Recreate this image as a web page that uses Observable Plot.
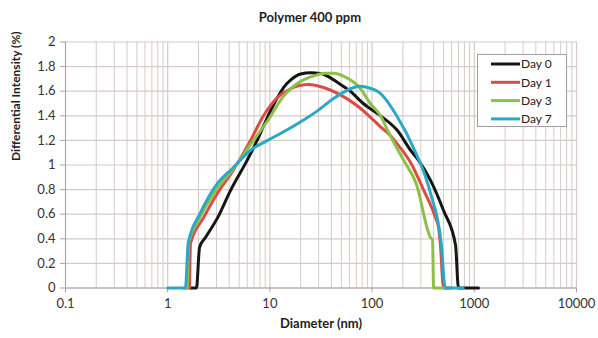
<!DOCTYPE html>
<html>
<head>
<meta charset="utf-8">
<script src="https://cdn.jsdelivr.net/npm/d3@7"></script>
<script src="https://cdn.jsdelivr.net/npm/@observablehq/plot@0.6"></script>
<style>
  html, body { margin: 0; padding: 0; background: #fff; }
  #wrap { position: relative; width: 598px; height: 338px; font-family: Lato, "Open Sans", sans-serif; }
  #title { height: 30px; text-align: center; font-weight: bold; font-size: 13px; line-height: 35px; color: #222; padding-left: 22px; }
  #legend { position: absolute; left: 477px; top: 54px; width: 88px; height: 71px; border: 1px solid #a0a0a0; background: #fff; }
  #legend svg { display: block; }
</style>
</head>
<body>
<div id="wrap">
  <div id="title">Polymer 400 ppm</div>
  <div id="chart"></div>
  <div id="legend"></div>
</div>
<script>
// ---- data ----
const seriesNames = ["Day 0", "Day 1", "Day 3", "Day 7"];
const seriesColors = ["#161616", "#dc4c47", "#8dc049", "#2ba8c5"];

const day0X = [1.67, 1.91, 2.05, 2.34, 3.07, 4.1, 6.0, 7.5, 8.7, 10, 11.9, 13.6, 15.9, 20, 25, 31, 37, 46, 61, 82, 121, 177, 238, 278, 373, 500, 655, 700, 1100];
const day0Y = [0, 0, 0.33, 0.41, 0.57, 0.79, 1.04, 1.2, 1.32, 1.43, 1.55, 1.63, 1.69, 1.74, 1.75, 1.745, 1.72, 1.67, 1.6, 1.5, 1.4, 1.28, 1.12, 1.05, 0.875, 0.63, 0.35, 0, 0];

const day1X = [1.49, 1.63, 1.67, 2.24, 3.07, 4.4, 6.46, 8.66, 11.9, 15.9, 24, 33.5, 49, 72, 96, 121, 151, 177, 238, 318, 418, 447, 465, 500, 600];
const day1Y = [0, 0, 0.36, 0.57, 0.77, 0.96, 1.2, 1.4, 1.55, 1.62, 1.655, 1.63, 1.57, 1.48, 1.39, 1.31, 1.24, 1.17, 1.02, 0.8, 0.57, 0.49, 0.36, 0, 0];

const day3X = [1.42, 1.55, 1.6, 2.0, 3.0, 4.4, 6.5, 9.5, 13.6, 20, 27, 35, 42, 53, 77, 96, 121, 142, 203, 270, 373, 390, 400, 550];
const day3Y = [0, 0, 0.36, 0.55, 0.8, 0.97, 1.17, 1.36, 1.56, 1.68, 1.725, 1.745, 1.745, 1.72, 1.62, 1.5, 1.4, 1.28, 1.04, 0.85, 0.41, 0.39, 0, 0];

const day7X = [1.0, 1.49, 1.59, 2.09, 3.07, 4.4, 6.46, 9.5, 13.6, 19.9, 29.2, 41.9, 61.5, 75, 90, 121, 177, 254, 373, 475, 520, 780];
const day7Y = [0, 0, 0.37, 0.61, 0.85, 0.98, 1.12, 1.2, 1.27, 1.35, 1.44, 1.54, 1.62, 1.64, 1.63, 1.58, 1.39, 1.14, 0.77, 0.36, 0, 0];

const xTicks = [0.1, 1, 10, 100, 1000, 10000];
const yTicks = [0, 0.2, 0.4, 0.6, 0.8, 1, 1.2, 1.4, 1.6, 1.8, 2];

// ---- build table ----
const seriesX = [day0X, day1X, day3X, day7X];
const seriesY = [day0Y, day1Y, day3Y, day7Y];
const rows = [];
seriesNames.forEach((name, i) => {
  seriesX[i].forEach((x, j) => rows.push({series: name, x, y: seriesY[i][j]}));
});
const minorX = [];
for (let e = -1; e < 4; e++) for (let m = 2; m <= 9; m++) minorX.push(m * Math.pow(10, e));

const gridColor = "#d7cac8";
const axisColor = "#a9a3a3";

const chart = Plot.plot({
  width: 598,
  height: 308,
  marginTop: 11.5,
  marginLeft: 65,
  marginRight: 22,
  marginBottom: 50.5,
  style: {fontFamily: "Lato, 'Open Sans', sans-serif", fontSize: "13px", color: "#333", background: "transparent"},
  x: {type: "log", domain: [0.1, 10000]},
  y: {domain: [0, 2]},
  color: {domain: seriesNames, range: seriesColors},
  marks: [
    Plot.ruleX(minorX, {stroke: gridColor, strokeWidth: 1}),
    Plot.ruleX(xTicks, {stroke: gridColor, strokeWidth: 1.2}),
    Plot.ruleY(yTicks, {stroke: gridColor, strokeWidth: 1.2}),
    Plot.ruleY([0], {stroke: axisColor}),
    Plot.ruleX([0.1], {stroke: axisColor}),
    Plot.axisX({ticks: xTicks, tickFormat: d => String(d), tickSize: 5, tickPadding: 6, stroke: axisColor, label: null, fill: "#333"}),
    Plot.axisY({ticks: yTicks, tickFormat: d => String(+d.toFixed(1)), tickSize: 5, tickPadding: 5, stroke: axisColor, label: null, fill: "#333"}),
    Plot.line(rows, {x: "x", y: "y", z: "series", stroke: "series", strokeWidth: 3, curve: "monotone-x"}),
    Plot.text(["Diameter (nm)"], {frameAnchor: "bottom", dy: 40, fontWeight: "bold", fontSize: 13, fill: "#222"}),
    Plot.text(["Differential Intensity (%)"], {frameAnchor: "left", dx: -49, dy: -4, rotate: -90, fontWeight: "bold", fontSize: 12, fill: "#222"})
  ]
});
document.getElementById("chart").appendChild(chart);

// ---- legend ----
const lg = d3.select("#legend").append("svg").attr("width", 88).attr("height", 71);
seriesNames.forEach((name, i) => {
  const cy = 9 + i * 18.3;
  lg.append("line").attr("x1", 13).attr("x2", 42).attr("y1", cy).attr("y2", cy)
    .attr("stroke", seriesColors[i]).attr("stroke-width", 3);
  lg.append("text").attr("x", 43).attr("y", cy).attr("dy", "0.35em")
    .attr("font-size", 12).attr("fill", "#222").attr("font-family", "Lato, 'Open Sans', sans-serif").text(name);
});
</script>
</body>
</html>
